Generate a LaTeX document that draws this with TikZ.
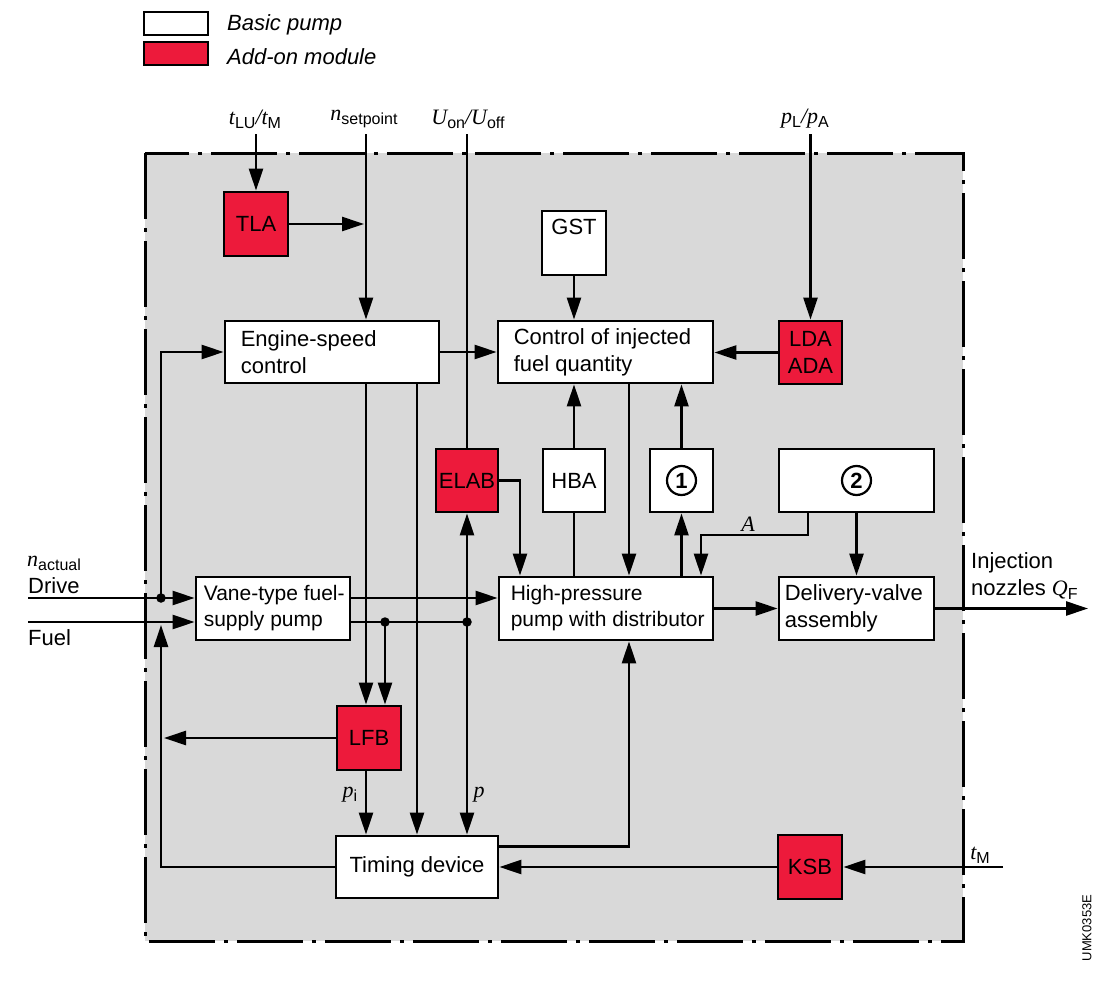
\documentclass[tikz,border=0pt]{standalone}
\usepackage{fontspec}
\setmainfont{Liberation Sans}
\newfontfamily\tms{Liberation Serif}
\usetikzlibrary{arrows.meta,calc}
\definecolor{addred}{HTML}{ED1A3B}
\definecolor{bggray}{HTML}{D9D9D9}
\newcommand\fsz{\fontsize{22}{27}\selectfont}
\newcommand\fsm{\fontsize{21}{26}\selectfont}
\newcommand\vr[1]{{\tms\itshape #1}}
\newcommand\sbs[1]{\raisebox{-4pt}{\fontsize{16}{16}\selectfont #1}}
\tikzset{
  box/.style={draw, line width=2.8pt, fill=white, inner sep=0pt, font=\fsz},
  rbox/.style={box, fill=addred},
  txt/.style={anchor=west, align=left, inner sep=0pt, font=\fsz},
  lbl/.style={inner sep=0pt, font=\fsz},
  circ/.style={circle, draw, line width=2.2pt, minimum size=29pt, inner sep=0pt, font=\fsz\bfseries},
  conn/.style={line width=2.6pt, -{Triangle[length=22pt,width=14pt]}},
  plain/.style={line width=2.6pt},
  jdot/.style={circle, fill=black, inner sep=0pt, minimum size=9.5pt},
}
\begin{document}
\begin{tikzpicture}[x=1pt,y=-1pt]
\useasboundingbox (0,0) rectangle (1093,982);
% frame
\fill[bggray] (145,153) rectangle (963,941);
\draw[line width=3pt, dash pattern=on 66pt off 9pt on 4pt off 9pt] (145,153) rectangle (963,941);

% legend
\node[box, minimum width=64pt, minimum height=23pt] (lgw) at (176,23.5) {};
\node[rbox, minimum width=64pt, minimum height=23pt] (lgr) at (176,53.5) {};
\node[txt, font=\fsz\itshape] (lgwt) at (227,25) {Basic pump};
\node[txt, font=\fsz\itshape] (lgrt) at (227,57) {Add-on module};

% top labels
\node[lbl] (tl) at (255,119) {\vr{t}\sbs{LU}\vr{/}\vr{t}\sbs{M}};
\node[lbl] (nl) at (364,119) {\vr{n}\sbs{setpoint}};
\node[lbl] (ul) at (468,119) {\vr{U}\sbs{on}\vr{/}\vr{U}\sbs{off}};
\node[lbl] (pl) at (805,119) {\vr{p}\sbs{L}\vr{/}\vr{p}\sbs{A}};
\coordinate (tt) at (256,134);
\coordinate (nt) at (366,134);
\coordinate (ut) at (467,134);
\coordinate (pt) at (810.5,134);

% boxes
\node[rbox, minimum width=64pt, minimum height=64pt] (tla) at (256,224) {TLA};
\node[box, minimum width=214pt, minimum height=62pt] (eng) at (332,352) {};
\node[txt] (engt) at ([xshift=17pt]eng.west) {Engine-speed\\control};
\node[box, minimum width=64pt, minimum height=64pt] (gst) at (574,243) {};
\node[lbl] (gstt) at (574,227) {GST};
\node[box, minimum width=215pt, minimum height=62pt] (ctrl) at (605.5,352) {};
\node[txt] (ctrlt) at ([xshift=17pt]ctrl.west) {Control of injected\\fuel quantity};
\node[rbox, minimum width=63pt, minimum height=63pt, align=center] (lda) at (810.5,352.5) {LDA\\ADA};
\node[rbox, minimum width=62pt, minimum height=63pt] (elab) at (467,480.5) {ELAB};
\node[box, minimum width=62pt, minimum height=63pt] (hba) at (574,480.5) {HBA};
\node[box, minimum width=63pt, minimum height=63pt] (c1) at (681.5,480.5) {};
\node[circ] (c1n) at (c1) {1};
\node[box, minimum width=155pt, minimum height=63pt] (c2) at (856.5,480.5) {};
\node[circ] (c2n) at (c2) {2};
\node[box, minimum width=154pt, minimum height=63pt] (vane) at (273,608.5) {};
\node[txt, font=\fsm] (vanet) at ([xshift=9pt]vane.west) {Vane-type fuel-\\supply pump};
\node[box, minimum width=214pt, minimum height=63pt] (hp) at (606,608.5) {};
\node[txt, font=\fsm] (hpt) at ([xshift=13pt]hp.west) {High-pressure\\pump with distributor};
\node[box, minimum width=155pt, minimum height=63pt] (dv) at (856.5,608.5) {};
\node[txt] (dvt) at ([xshift=7pt]dv.west) {Delivery-valve\\assembly};
\node[rbox, minimum width=64pt, minimum height=64pt] (lfb) at (369,738) {LFB};
\node[box, minimum width=162pt, minimum height=62pt] (tim) at (417,867) {Timing device};
\node[rbox, minimum width=64pt, minimum height=64pt] (ksb) at (810,867) {KSB};

% helper coordinates
\coordinate (drs) at (28,598);
\coordinate (fus) at (28,622);
\coordinate (qx) at (629,500);
\coordinate (ex) at (520,481);
\coordinate (a1) at (808,535);
\coordinate (a2) at (701,535);
\coordinate (outp) at (1088,608.5);
\coordinate (tms) at (1003,867);
\coordinate (fl) at (161,625);
\node[jdot] (d1) at (161,598) {};
\node[jdot] (d2) at (385,622) {};
\node[jdot] (d3) at (467,622) {};

% connectors from top
\draw[conn] (tt) -- (tla.north);
\draw[conn] (nt) -- (nt |- eng.north);
\draw[conn] (tla.east) -- ([xshift=-2pt]tla.east -| nt);
\draw[plain] (ut) -- (elab.north);
\draw[conn] (pt) -- (lda.north);
\draw[conn] (gst.south) -- (gst.south |- ctrl.north);
\draw[conn] (lda.west) -- (lda.west -| ctrl.east);
\draw[conn] (eng.east) -- (eng.east -| ctrl.west);

% inputs left
\draw[conn] (drs) -- (drs -| vane.west);
\draw[conn] (fus) -- (fus -| vane.west);
\draw[conn] (d1.center) |- (eng.west);
\draw[conn] (vane.east |- drs) -- (hp.west |- drs);
\draw[plain] (vane.east |- fus) -- (d3.center);
\draw[conn] (d2.center) -- (d2 |- lfb.north);
\draw[conn] (nt |- eng.south) -- (nt |- lfb.north);
\draw[conn] (eng.south -| tim.north) -- (tim.north);
\draw[conn] (d3.center) -- (elab.south);
\draw[conn] (d3.center) -- (d3 |- tim.north);
\draw[conn] (nt |- lfb.south) -- (nt |- tim.north);
\draw[conn] (lfb.west) -- ([xshift=3pt]lfb.west -| d1);
\draw[conn] (tim.west) -| (fl);
\draw[conn] ($(tim.north east)+(0,12)$) -| (hp.south -| qx);
\draw[conn] (ksb.west) -- (ksb.west -| tim.east);
\draw[conn] (tms) -- (ksb.east);

% middle
\draw[conn] (elab.east) -| (hp.north -| ex);
\draw[conn] (hba.north) -- (hba.north |- ctrl.south);
\draw[plain] (hba.south) -- (hba.south |- hp.north);
\draw[conn] (ctrl.south -| qx) -- (hp.north -| qx);
\draw[conn] (c1.north) -- (c1.north |- ctrl.south);
\draw[conn] (c1.south |- hp.north) -- (c1.south);
\draw[conn] (a1 |- c2.south) -- (a1) -- (a2) -- (a2 |- hp.north);
\draw[conn] (c2.south) -- (c2.south |- dv.north);
\draw[conn] (hp.east) -- (dv.west);
\draw[conn] (dv.east) -- (outp);

% labels
\node[lbl] (al) at (748,524) {\vr{A}};
\node[lbl] (pil) at (350,795) {\vr{p}\sbs{i}};
\node[lbl] (pp) at (479,795) {\vr{p}};
\node[lbl] (tml) at (980,855) {\vr{t}\sbs{M}};
\node[txt] (nact) at (27,563) {\vr{n}\sbs{actual}};
\node[txt] (drv) at (28,586) {Drive};
\node[txt] (fuel) at (28,638) {Fuel};
\node[txt] (inj) at (971,576) {Injection\\nozzles \vr{Q}\sbs{F}};
\node[rotate=90, inner sep=0pt, font=\fontsize{13}{13}\selectfont] (code) at (1087,928) {UMK0353E};
\end{tikzpicture}
\end{document}
